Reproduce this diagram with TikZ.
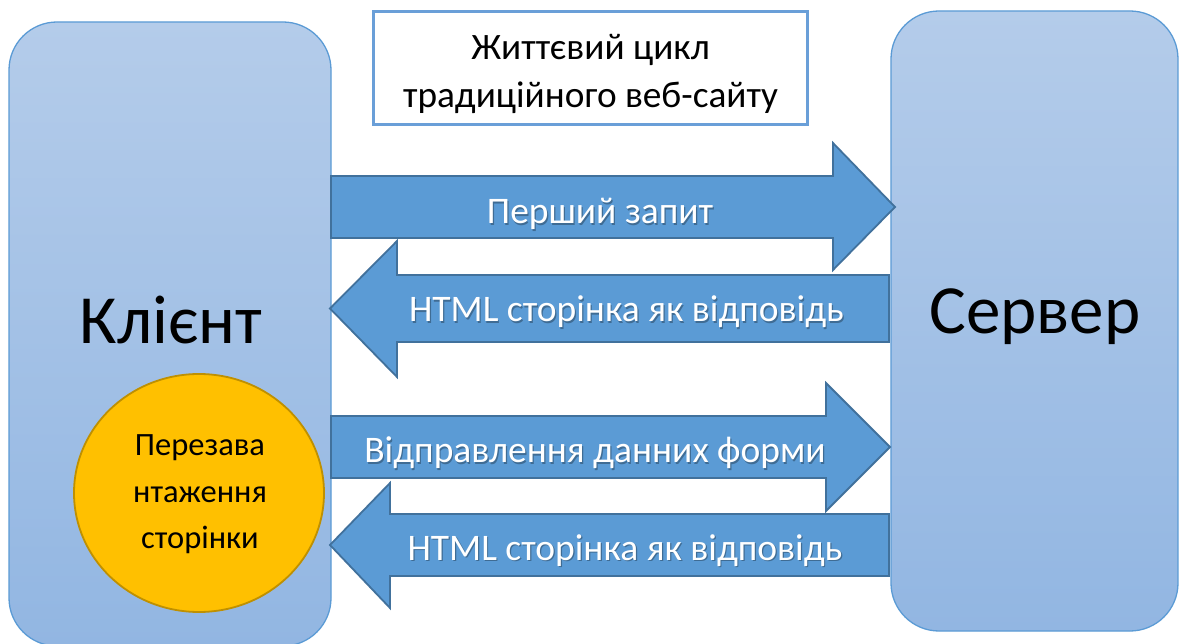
\documentclass[tikz,border=0pt]{standalone}
\usepackage{fontspec}
\setmainfont{Carlito}
\definecolor{boxtop}{HTML}{B4CCEA}
\definecolor{boxbot}{HTML}{92B6E2}
\definecolor{boxline}{HTML}{5B9BD5}
\definecolor{arrfill}{HTML}{5B9BD5}
\definecolor{arrline}{HTML}{41719C}
\definecolor{circfill}{HTML}{FFC000}
\definecolor{circline}{HTML}{BF9000}
\definecolor{titleline}{HTML}{6A9FD8}
\begin{document}
\begin{tikzpicture}[x=1pt,y=-1pt,
  panel/.style={draw=boxline, line width=1.3pt, rounded corners=48pt,
    top color=boxtop, bottom color=boxbot, inner sep=0pt},
  bigtext/.style={font=\fontsize{69}{72}\selectfont, text=black, anchor=base, inner sep=0pt},
  blockarrow/.style={fill=arrfill, draw=arrline, line width=1.8pt, line join=miter},
  arrtext/.style={font=\fontsize{37.5}{40}\selectfont, text=white, anchor=base, inner sep=0pt},
  arrshadow/.style={font=\fontsize{37.5}{40}\selectfont, text=black, opacity=0.3, anchor=base, inner sep=0pt},
  titletext/.style={font=\fontsize{37.3}{40}\selectfont, text=black, anchor=base, inner sep=0pt},
  circtext/.style={font=\fontsize{32.5}{36}\selectfont, text=black, anchor=base, inner sep=0pt}
]
\useasboundingbox (0,0) rectangle (1179,644);
\fill[white] (0,0) rectangle (1179,644);

% client and server panels
\node[panel, minimum width=322pt, minimum height=624pt] (client) at (170,334) {};
\node[panel, minimum width=287pt, minimum height=620pt] (server) at (1034.5,321) {};
\node[bigtext] (clientlbl) at (171,344) {Клієнт};
\node[bigtext] (serverlbl) at (1035,334) {Сервер};

% title box
\node[draw=titleline, line width=2.4pt, fill=white, minimum width=434pt, minimum height=113pt, inner sep=0pt] (title) at (590.5,68) {};
\node[titletext] (title1) at (590.5,60) {Життєвий цикл};
\node[titletext] (title2) at (590.5,108) {традиційного веб-сайту};

% block arrows
\draw[blockarrow] (331,176) -- (833,176) -- (833,143) -- (895,207) -- (833,270) -- (833,238) -- (331,238) -- cycle;
\draw[blockarrow] (889,275) -- (397,275) -- (397,241) -- (330,308.5) -- (397,377) -- (397,342) -- (889,342) -- cycle;
\draw[blockarrow] (331,416) -- (826,416) -- (826,383) -- (890,447) -- (826,511) -- (826,478) -- (331,478) -- cycle;
\draw[blockarrow] (889,514) -- (390,514) -- (390,483) -- (330,545) -- (390,608) -- (390,576) -- (889,576) -- cycle;

% arrow labels
\node[arrshadow] at (601.2,225.2) {Перший запит};
\node[arrtext] (a1) at (600,224) {Перший запит};
\node[arrshadow] at (627.7,323.2) {HTML сторінка як відповідь};
\node[arrtext] (a2) at (626.5,322) {HTML сторінка як відповідь};
\node[arrshadow] at (596.2,464.2) {Відправлення данних форми};
\node[arrtext] (a3) at (595,463) {Відправлення данних форми};
\node[arrshadow] at (626.2,561.2) {HTML сторінка як відповідь};
\node[arrtext] (a4) at (625,560) {HTML сторінка як відповідь};

% reload circle
\draw[fill=circfill, draw=circline, line width=1.8pt] (199,493) ellipse [x radius=125pt, y radius=119pt];
\node[circtext] (r1) at (200,456) {Перезава};
\node[circtext] (r2) at (200,502) {нтаження};
\node[circtext] (r3) at (200,548) {сторінки};
\end{tikzpicture}
\end{document}
